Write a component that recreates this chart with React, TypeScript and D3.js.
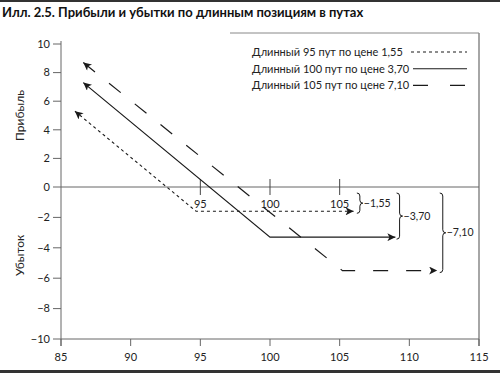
import * as d3 from "d3";
import React from "react";

// values
const xTicks = [85, 90, 95, 100, 105, 110, 115];
const yTicks = [10, 8, 6, 4, 2, 0, -2, -4, -6, -8, -10];
const strikeTicks = [95, 100, 105];
const legendLabels = [
  "Длинный 95 пут по цене 1,55",
  "Длинный 100 пут по цене 3,70",
  "Длинный 105 пут по цене 7,10",
];
const costLabels = ["−1,55", "−3,70", "−7,10"];

const put95 = [
  [86.0, 5.3],
  [94.7, -1.6],
  [106.0, -1.6],
];
const put100 = [
  [86.6, 7.3],
  [100, -3.3],
  [109.0, -3.3],
];
const put105 = [
  [86.6, 8.7],
  [105.2, -5.5],
  [112.0, -5.5],
];
const series = [put95, put100, put105];
const dashes = ["3,3", "none", "15,18"];
const braceX = [106.45, 109.3, 112.4];

const App: React.FC = () => {
  const width = 500;
  const height = 373;
  const x = d3.scaleLinear().domain([85, 115]).range([61, 479]);
  const y = d3.scaleLinear().domain([10, 0, -10]).range([44, 187, 339]);
  const line = d3
    .line<number[]>()
    .x((d) => x(d[0]))
    .y((d) => y(d[1]));

  const axisColor = "#666";
  const ink = "#1a1a1a";
  const font = "Lato, 'Open Sans', sans-serif";

  const brace = (bx: number, y1: number, y2: number) => {
    const ym = (y1 + y2) / 2;
    return `M${bx - 3},${y1} Q${bx},${y1} ${bx},${y1 + 3} L${bx},${ym - 3} Q${bx},${ym} ${bx + 3},${ym} Q${bx},${ym} ${bx},${ym + 3} L${bx},${y2 - 3} Q${bx},${y2} ${bx - 3},${y2}`;
  };

  return (
    <svg
      width={width}
      height={height}
      style={{ position: "absolute", left: 0, top: 0, background: "#fff" }}
      fontFamily={font}
    >
      <defs>
        <marker
          id="arrow"
          viewBox="0 0 10 10"
          refX={10}
          refY={5}
          markerUnits="userSpaceOnUse"
          markerWidth={11}
          markerHeight={8}
          orient="auto-start-reverse"
        >
          <path d="M0,0 L10,5 L0,10 L2.5,5 Z" fill={ink} />
        </marker>
      </defs>

      {/* page rules */}
      <line x1={0} x2={width} y1={1} y2={1} stroke="#333" strokeWidth={2} />
      <line x1={0} x2={width} y1={371.5} y2={371.5} stroke="#333" strokeWidth={3} />

      <text x={2} y={17} fontSize={13} fontWeight={700} fill="#111">
        Илл. 2.5. Прибыли и убытки по длинным позициям в путах
      </text>

      {/* frame */}
      <line x1={x(115)} x2={x(115)} y1={33} y2={346} stroke="#888" strokeWidth={1.5} />
      <line x1={x(115)} x2={230} y1={33} y2={33} stroke="#888" strokeWidth={1} />

      {/* y axis */}
      <line x1={x(85)} x2={x(85)} y1={41} y2={346} stroke={axisColor} />
      {yTicks.map((t) => (
        <g key={t}>
          <line x1={x(85) - 8} x2={x(85)} y1={y(t)} y2={y(t)} stroke={axisColor} />
          <text
            x={x(85) - 11}
            y={y(t)}
            dy="0.35em"
            textAnchor="end"
            fontSize={11}
            fill="#222"
          >
            {t < 0 ? `−${-t}` : t}
          </text>
        </g>
      ))}
      <text
        transform={`translate(24,${y(5)}) rotate(-90)`}
        textAnchor="middle"
        fontSize={12}
        fill="#222"
      >
        Прибыль
      </text>
      <text
        transform={`translate(24,${y(-4.5)}) rotate(-90)`}
        textAnchor="middle"
        fontSize={12}
        fill="#222"
      >
        Убыток
      </text>

      {/* x axis */}
      <line x1={x(85)} x2={x(115)} y1={y(-10)} y2={y(-10)} stroke={axisColor} />
      {xTicks.map((t) => (
        <g key={t}>
          <line x1={x(t)} x2={x(t)} y1={y(-10)} y2={y(-10) + 7} stroke={axisColor} />
          <text x={x(t)} y={361} textAnchor="middle" fontSize={11} fill="#222">
            {t}
          </text>
        </g>
      ))}

      {/* zero line */}
      <line x1={x(85)} x2={x(115)} y1={y(0)} y2={y(0)} stroke={axisColor} />
      {strikeTicks.map((t) => (
        <g key={t}>
          <line x1={x(t)} x2={x(t)} y1={y(0) - 8} y2={y(0) + 8} stroke="#444" />
          <text x={x(t)} y={y(0) + 21} textAnchor="middle" fontSize={11} fill="#222">
            {t}
          </text>
        </g>
      ))}

      {/* payoff lines */}
      {series.map((s, i) => (
        <path
          key={i}
          d={line(s) || ""}
          fill="none"
          stroke={ink}
          strokeWidth={i === 0 ? 1.1 : 1.2}
          strokeDasharray={dashes[i]}
          markerStart="url(#arrow)"
          markerEnd="url(#arrow)"
        />
      ))}

      {/* cost braces */}
      {series.map((s, i) => {
        const bx = x(braceX[i]);
        const y1 = y(0) + 6;
        const y2 = y(s[2][1]) + 2;
        return (
          <g key={i}>
            <path d={brace(bx, y1, y2)} fill="none" stroke={ink} strokeWidth={1} />
            <text
              x={bx + 4}
              y={(y1 + y2) / 2}
              dy="0.35em"
              fontSize={10.5}
              fill="#222"
            >
              {costLabels[i]}
            </text>
          </g>
        );
      })}

      {/* legend */}
      {legendLabels.map((lab, i) => {
        const ly = 52 + i * 16.7;
        return (
          <g key={i}>
            <text x={252} y={ly} dy="0.35em" fontSize={11} fill="#222">
              {lab}
            </text>
            <line
              x1={i === 0 ? 411 : 413}
              x2={467}
              y1={ly}
              y2={ly}
              stroke={ink}
              strokeWidth={1.1}
              strokeDasharray={i === 2 ? "15,22" : dashes[i]}
            />
          </g>
        );
      })}
    </svg>
  );
};

export default App;
